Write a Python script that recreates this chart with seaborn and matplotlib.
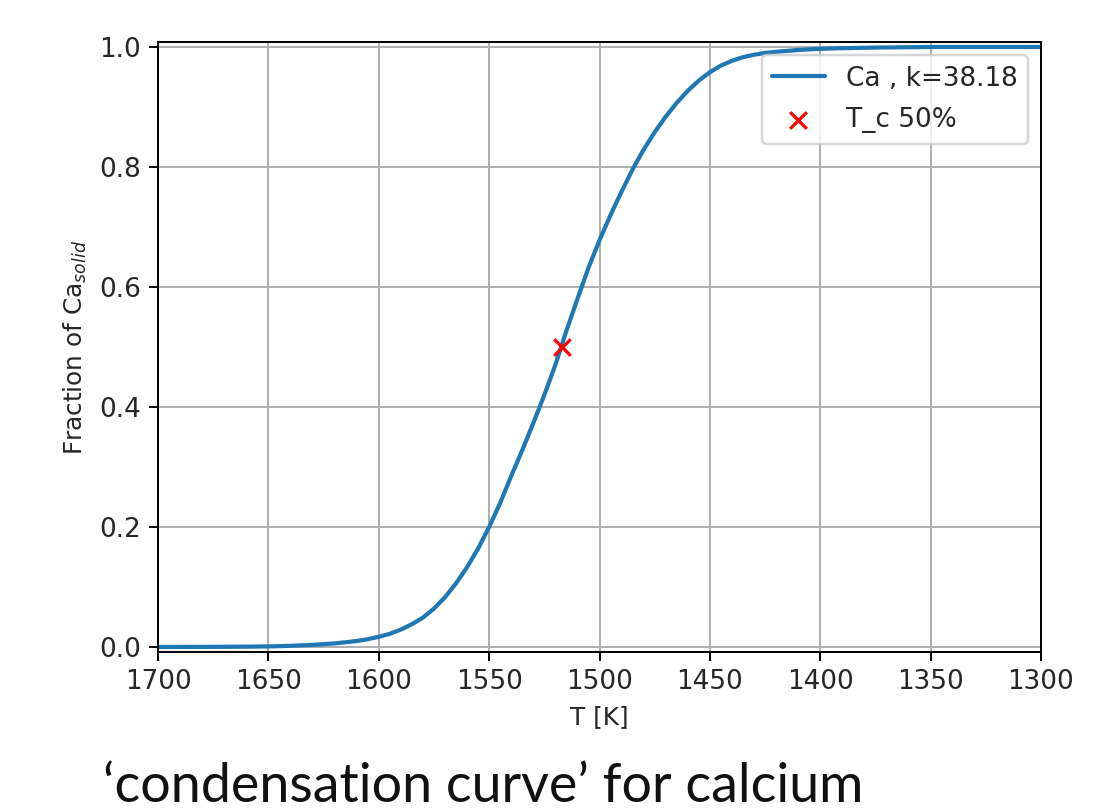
import matplotlib
matplotlib.use("Agg")
import matplotlib.pyplot as plt
import seaborn as sns
import pandas as pd

# Data
temperature = [1700, 1680, 1660, 1650, 1640, 1630, 1620, 1610, 1605, 1600,
               1595, 1590, 1585, 1580, 1575, 1570, 1565, 1560, 1555, 1550,
               1545, 1540, 1535, 1530, 1525, 1520, 1515, 1510, 1505, 1500,
               1495, 1490, 1485, 1480, 1475, 1470, 1465, 1460, 1455, 1450,
               1445, 1440, 1435, 1430, 1425, 1420, 1410, 1400, 1390, 1375,
               1350, 1325, 1300]
fraction = [0.000, 0.0002, 0.0006, 0.001, 0.002, 0.0035, 0.006, 0.010, 0.013, 0.017,
            0.022, 0.029, 0.038, 0.049, 0.064, 0.083, 0.106, 0.133, 0.164, 0.200,
            0.240, 0.285, 0.328, 0.373, 0.420, 0.470, 0.527, 0.580, 0.632, 0.678,
            0.720, 0.759, 0.796, 0.829, 0.858, 0.884, 0.907, 0.927, 0.944, 0.958,
            0.969, 0.977, 0.983, 0.987, 0.990, 0.992, 0.995, 0.997, 0.998, 0.999,
            1.000, 1.000, 1.000]
tc_temperature = [1517]
tc_fraction = [0.5]
x_ticks = [1700, 1650, 1600, 1550, 1500, 1450, 1400, 1350, 1300]
y_ticks = [0.0, 0.2, 0.4, 0.6, 0.8, 1.0]

curve_label = "Ca , k=38.18"
tc_label = "T_c 50%"
caption = "\u2018condensation curve\u2019 for calcium"

df = pd.DataFrame({"T": temperature, "frac": fraction})
df_tc = pd.DataFrame({"T": tc_temperature, "frac": tc_fraction})

sns.set_style("ticks")
plt.rcParams["font.family"] = ["DejaVu Sans"]

DPI = 178
fig = plt.figure(figsize=(1110 / DPI, 810 / DPI), dpi=DPI)
ax = fig.add_axes([158 / 1110, 1 - 652 / 810, (1041 - 158) / 1110, (652 - 42) / 810])

sns.lineplot(data=df, x="T", y="frac", ax=ax, color="#1f77b4", linewidth=1.7,
             label=curve_label, sort=False)
sns.scatterplot(data=df_tc, x="T", y="frac", ax=ax, color="red", marker="x",
                s=45, linewidth=1.3, label=tc_label, zorder=5)

ax.set_xlim(1700, 1300)
ax.set_ylim(-0.0083, 1.0083)
ax.set_xticks(x_ticks)
ax.set_yticks(y_ticks)
ax.grid(True, color="#b0b0b0", linewidth=0.8)
ax.set_axisbelow(True)
for s in ax.spines.values():
    s.set_visible(True)
    s.set_color("black")
    s.set_linewidth(0.8)
ax.tick_params(colors="black", labelcolor="#262626", labelsize=10.6, length=3.5, width=0.8)

ax.set_xlabel("T [K]", fontsize=10, color="#262626")
ax.set_ylabel(r"Fraction of Ca$_{solid}$", fontsize=10, color="#262626")

leg = ax.legend(loc="upper right", fontsize=10.6, frameon=True, framealpha=0.8,
                edgecolor="#cccccc", fancybox=True, labelspacing=0.6)

fig.text(103 / 1110, 1 - 802 / 810, caption,
         fontsize=21.8, family=["Lato", "DejaVu Sans"], fontweight="normal",
         color="#111111", ha="left", va="baseline")

fig.savefig("out.png", dpi=DPI, facecolor="white")
